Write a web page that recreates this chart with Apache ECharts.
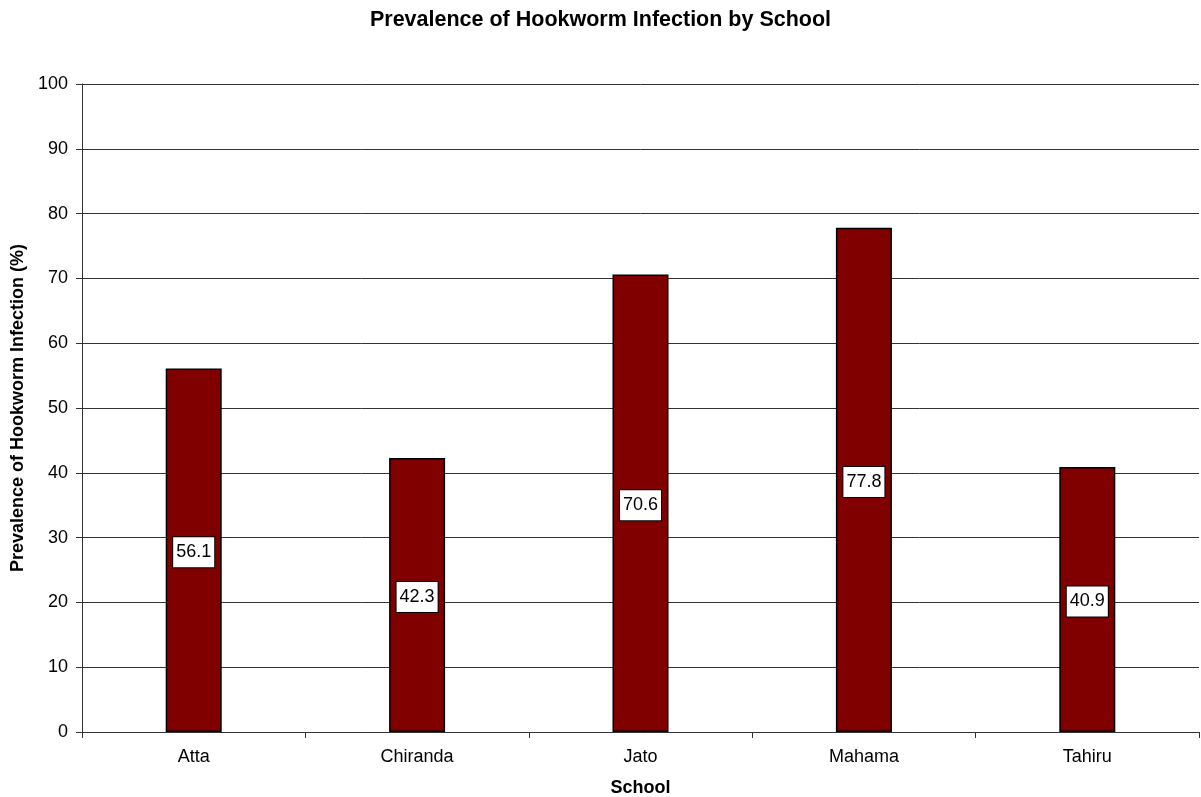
<!DOCTYPE html>
<html><head><meta charset="utf-8">
<script src="https://cdn.jsdelivr.net/npm/echarts@6/dist/echarts.min.js"></script>
<style>html,body{margin:0;padding:0;background:#fff}#c{width:1201px;height:797px}</style>
</head><body><div id="c"></div>
<script>
const categories = ["Atta", "Chiranda", "Jato", "Mahama", "Tahiru"];
const prevalence = [56.1, 42.3, 70.6, 77.8, 40.9];
const yTicks = [0, 10, 20, 30, 40, 50, 60, 70, 80, 90, 100];

const F = "'Liberation Sans', Arial, sans-serif";
const chart = echarts.init(document.getElementById('c'), null, {renderer: 'canvas'});
chart.setOption({
  animation: false,
  backgroundColor: '#fff',
  title: {
    text: 'Prevalence of Hookworm Infection by School',
    left: 'center', top: 4,
    textStyle: {fontFamily: F, fontSize: 21.5, fontWeight: 'bold', color: '#000'}
  },
  grid: {left: 82, right: 2, top: 84, bottom: 65, containLabel: false, outerBoundsMode: 'none'},
  xAxis: {
    type: 'category', data: categories,
    name: 'School', nameLocation: 'middle', nameGap: 47,
    nameTextStyle: {fontFamily: F, fontSize: 18, fontWeight: 'bold', color: '#000'},
    axisLine: {lineStyle: {color: '#333', width: 1}},
    axisTick: {show: true, length: 6, alignWithLabel: false, lineStyle: {color: '#333'}},
    axisLabel: {fontFamily: F, fontSize: 18, color: '#000', margin: 16}
  },
  yAxis: {
    type: 'value', min: yTicks[0], max: yTicks[yTicks.length - 1], interval: 10,
    name: 'Prevalence of Hookworm Infection (%)', nameLocation: 'middle', nameGap: 55,
    nameTextStyle: {fontFamily: F, fontSize: 18, fontWeight: 'bold', color: '#000'},
    axisLine: {show: true, lineStyle: {color: '#333', width: 1}},
    axisTick: {show: true, length: 6, lineStyle: {color: '#333'}},
    axisLabel: {fontFamily: F, fontSize: 18, color: '#000', margin: 14},
    splitLine: {show: true, lineStyle: {color: '#333', width: 1}}
  },
  series: [{
    type: 'bar', data: prevalence, barWidth: 56,
    itemStyle: {color: '#800000', borderColor: '#000', borderWidth: 1.5},
    label: {
      show: true, position: 'inside', offset: [0, 2],
      fontFamily: F, fontSize: 18, lineHeight: 18, color: '#000',
      backgroundColor: '#fff', borderColor: '#000', borderWidth: 1,
      padding: [6, 3, 6, 3],
      formatter: p => p.value.toFixed(1)
    }
  }]
});
</script></body></html>
